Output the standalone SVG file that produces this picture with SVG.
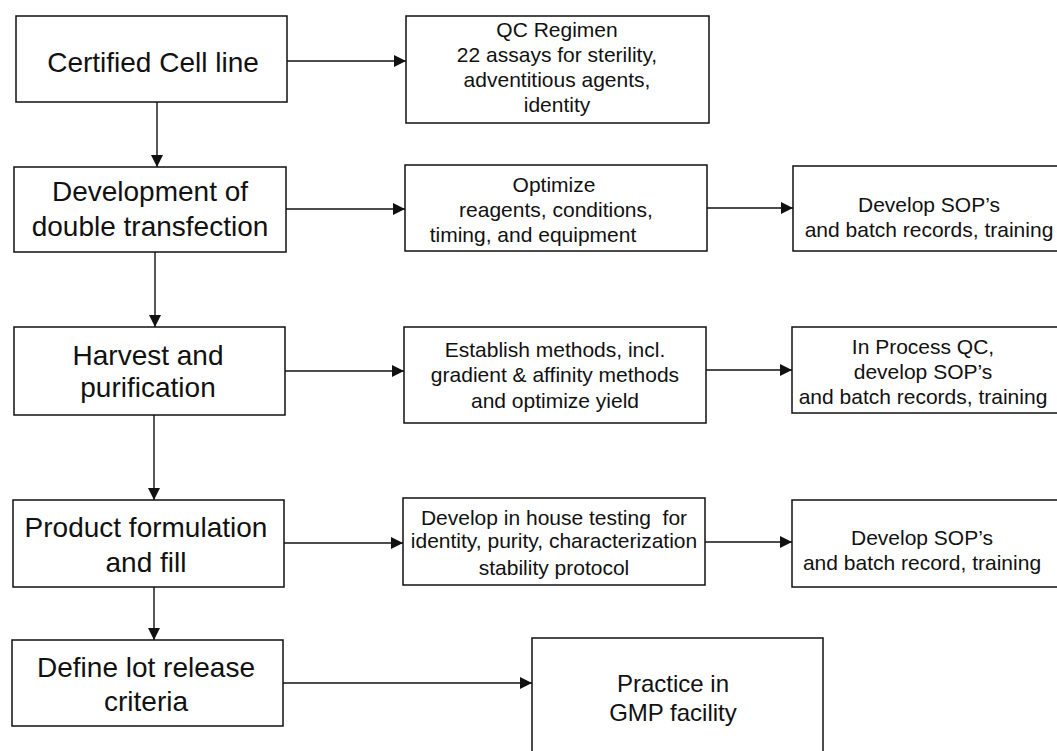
<svg xmlns="http://www.w3.org/2000/svg" width="1057" height="751" viewBox="0 0 1057 751">
<style>
rect{fill:#fff;stroke:#111;stroke-width:1.5}
text{font-family:"Liberation Sans",Arial,sans-serif;fill:#111;text-anchor:middle}
.big{font-size:28px}
.sm{font-size:21px}
.mid{font-size:24px}
#connectors line{stroke:#111;stroke-width:1.4;marker-end:url(#ah)}
</style>
<defs>
<marker id="ah" markerUnits="userSpaceOnUse" markerWidth="13" markerHeight="12" refX="12" refY="6" orient="auto">
<path d="M0,0 L12,6 L0,12 z" fill="#111"/>
</marker>
</defs>
<rect width="1057" height="751" style="fill:#fff;stroke:none"/>
<g id="n1"><rect x="16" y="16" width="271" height="86"/><text class="big" x="153" y="72">Certified Cell line</text></g>
<g id="n2"><rect x="14" y="167" width="272" height="85"/><text class="big" x="150" y="201">Development of</text><text class="big" x="150" y="236">double transfection</text></g>
<g id="n3"><rect x="14" y="327" width="271" height="88"/><text class="big" x="148" y="365">Harvest and</text><text class="big" x="148" y="397">purification</text></g>
<g id="n4"><rect x="13" y="500" width="271" height="87"/><text class="big" x="146" y="537">Product formulation</text><text class="big" x="146" y="572">and fill</text></g>
<g id="n5"><rect x="12" y="640" width="271" height="86"/><text class="big" x="146" y="677">Define lot release</text><text class="big" x="146" y="711">criteria</text></g>
<g id="qc"><rect x="406" y="16" width="303" height="107"/><text class="sm" x="557" y="37">QC Regimen</text><text class="sm" x="557" y="62">22 assays for sterility,</text><text class="sm" x="557" y="87">adventitious agents,</text><text class="sm" x="557" y="112">identity</text></g>
<g id="opt"><rect x="405" y="165" width="302" height="86"/><text class="sm" x="554" y="192">Optimize</text><text class="sm" x="556" y="217">reagents, conditions,</text><text class="sm" x="533" y="242">timing, and equipment</text></g>
<g id="sop1"><rect x="793" y="166" width="270" height="85"/><text class="sm" x="929" y="212">Develop SOP’s</text><text class="sm" x="929" y="237">and batch records, training</text></g>
<g id="est"><rect x="404" y="327" width="302" height="96"/><text class="sm" x="555" y="357">Establish methods, incl.</text><text class="sm" x="555" y="382">gradient &amp; affinity methods</text><text class="sm" x="555" y="408">and optimize yield</text></g>
<g id="ipqc"><rect x="792" y="327" width="270" height="86"/><text class="sm" x="923" y="354">In Process QC,</text><text class="sm" x="923" y="379">develop SOP’s</text><text class="sm" x="923" y="404">and batch records, training</text></g>
<g id="dev"><rect x="403" y="498" width="302" height="87"/><text class="sm" x="554" y="525" xml:space="preserve">Develop in house testing  for</text><text class="sm" x="554" y="548">identity, purity, characterization</text><text class="sm" x="554" y="575">stability protocol</text></g>
<g id="sop3"><rect x="792" y="500" width="270" height="87"/><text class="sm" x="922" y="545">Develop SOP’s</text><text class="sm" x="922" y="570">and batch record, training</text></g>
<g id="gmp"><rect x="532" y="638" width="291" height="130"/><text class="mid" x="673" y="692">Practice in</text><text class="mid" x="673" y="721">GMP facility</text></g>
<g id="connectors">
<line x1="287" y1="61" x2="406" y2="61"/>
<line x1="157" y1="102" x2="157" y2="167"/>
<line x1="286" y1="209" x2="405" y2="209"/>
<line x1="707" y1="208" x2="793" y2="208"/>
<line x1="155" y1="252" x2="155" y2="327"/>
<line x1="285" y1="371" x2="404" y2="371"/>
<line x1="706" y1="370" x2="792" y2="370"/>
<line x1="154" y1="415" x2="154" y2="500"/>
<line x1="284" y1="543" x2="403" y2="543"/>
<line x1="705" y1="542" x2="792" y2="542"/>
<line x1="154" y1="587" x2="154" y2="640"/>
<line x1="283" y1="683" x2="532" y2="683"/>
</g>
</svg>
